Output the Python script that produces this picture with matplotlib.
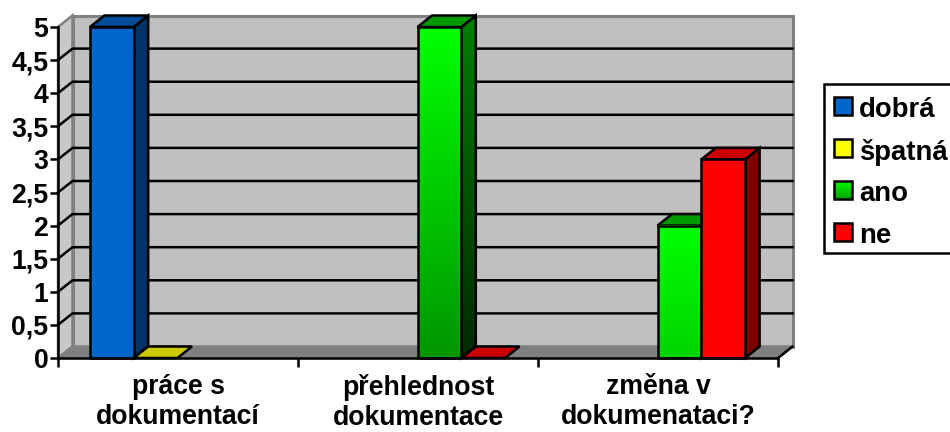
import numpy as np
import matplotlib
matplotlib.use('Agg')
import matplotlib.pyplot as plt
from matplotlib.patches import Polygon, Rectangle
from matplotlib.transforms import Affine2D

categories = ['práce s\ndokumentací', 'přehlednost\ndokumentace', 'změna v\ndokumenataci?']
series_names = ['dobrá', 'špatná', 'ano', 'ne']
dobra = [5, np.nan, np.nan]
spatna = [0, np.nan, np.nan]
ano = [np.nan, 5, 2]
ne = [np.nan, 0, 3]
y_ticks = [0, 0.5, 1, 1.5, 2, 2.5, 3, 3.5, 4, 4.5, 5]

W, H = 950, 432
plt.rcParams['font.family'] = ['Liberation Sans', 'DejaVu Sans']
plt.rcParams['font.weight'] = 'bold'

fig = plt.figure(figsize=(W / 100, H / 100), dpi=100, facecolor='white')
ax = fig.add_axes([58 / W, 1 - 358 / H, 720 / W, 331 / H])
ax.set_xlim(0, 3)
ax.set_ylim(0, 5)
ax.set_facecolor('none')

# depth of the fake 3d box, in data units
dx = 14.5 / 240
dy = 11.5 / (331 / 5)
bar_w = 43.8 / 240
LW = 1.8
FS = 19.2

# pixel coordinates for the legend
px = Affine2D().scale(1, -1).translate(0, H)


def poly(points, color, edge='black', lw=LW, z=2):
    p = Polygon(points, closed=True, facecolor=color, edgecolor=edge, linewidth=lw,
                zorder=z, clip_on=False, joinstyle='miter')
    ax.add_patch(p)
    return p


def gradient(x0, x1, y0, y1, top, bottom, z, transform=None, clip=None):
    # vertical colour ramp, first row is the top
    t = np.linspace(0, 1, 64)[:, None, None]
    img = (1 - t) * np.array(top)[None, None, :] + t * np.array(bottom)[None, None, :]
    im = ax.imshow(img, extent=(x0, x1, y0, y1), origin='upper', aspect='auto',
                   zorder=z, interpolation='bilinear',
                   transform=transform if transform is not None else ax.transData)
    # images get cut at the axes box otherwise, and the side faces stick out above it
    im.set_clip_box(fig.bbox)
    if clip is not None:
        im.set_clip_path(clip)
    return im


# walls and floor
poly([(0, 0), (dx, dy), (dx, 5 + dy), (0, 5)], '#c8c8c8', edge='#808080', z=1)
poly([(dx, dy), (3 + dx, dy), (3 + dx, 5 + dy), (dx, 5 + dy)], '#c0c0c0', edge='#808080', lw=2.2, z=1)
poly([(0, 0), (3, 0), (3 + dx, dy), (dx, dy)], '#808080', edge='#808080', z=1.1)
ax.plot([3, 3 + dx], [0, dy], color='black', lw=LW, zorder=1.2, clip_on=False)

# gridlines on both walls
for t in y_ticks[1:-1]:
    ax.plot([0, dx, 3 + dx], [t, t + dy, t + dy], color='black', lw=LW, zorder=1.5, clip_on=False)

styles = [
    {'front': ('#0066cc', '#0066cc'), 'side': ('#003366', '#003366'), 'cap': '#004c99', 'leg': ('#0066cc', '#0066cc')},
    {'front': ('#ffff00', '#ffff00'), 'side': ('#808000', '#808000'), 'cap': '#cccc00', 'leg': ('#ffff00', '#ffff00')},
    {'front': ('#00ff00', '#009600'), 'side': ('#007f00', '#002a00'), 'cap': '#009900', 'leg': ('#00ff00', '#00a000')},
    {'front': ('#ff0000', '#ff0000'), 'side': ('#800000', '#800000'), 'cap': '#cc0000', 'leg': ('#ff0000', '#ff0000')},
]


def rgb(c):
    return matplotlib.colors.to_rgb(c)


def mix(a, b, f):
    return tuple((1 - f) * x + f * y for x, y in zip(rgb(a), rgb(b)))


all_series = [dobra, spatna, ano, ne]
z = 3.0
for i in range(len(categories)):
    for j, vals in enumerate(all_series):
        v = vals[i]
        if np.isnan(v):
            continue
        st = styles[j]
        x0 = i + 0.5 + (j - 2) * bar_w - 0.5 / 240
        x1 = x0 + bar_w
        frac = v / 5
        # side face, only for bars with some height
        if v > 0:
            side = poly([(x1, 0), (x1 + dx, dy), (x1 + dx, v + dy), (x1, v)], 'none', lw=0, z=z)
            gradient(x1, x1 + dx, 0, v + dy, rgb(st['side'][0]), mix(st['side'][0], st['side'][1], frac), z + 0.01, clip=side)
            poly([(x1, 0), (x1 + dx, dy), (x1 + dx, v + dy), (x1, v)], 'none', z=z + 0.02)
        # top face
        poly([(x0, v), (x1, v), (x1 + dx, v + dy), (x0 + dx, v + dy)], st['cap'], z=z + 0.03)
        # front face
        if v > 0:
            gradient(x0, x1, 0, v, rgb(st['front'][0]), mix(st['front'][0], st['front'][1], frac), z + 0.04)
            ax.add_patch(Rectangle((x0, 0), bar_w, v, facecolor='none', edgecolor='black',
                                   linewidth=LW, zorder=z + 0.05, clip_on=False))
        z += 0.1

ax.set_xlim(0, 3)
ax.set_ylim(0, 5)

# axes lines and ticks
for s in ['top', 'right']:
    ax.spines[s].set_visible(False)
for s in ['left', 'bottom']:
    ax.spines[s].set_linewidth(LW)
    ax.spines[s].set_zorder(20)
ax.set_yticks(y_ticks)
ax.set_yticklabels([str(t).replace('.', ',').replace(',0', '') for t in y_ticks])
ax.set_xticks([0, 1, 2, 3])
ax.set_xticklabels([])
ax.set_xticks([0.5, 1.5, 2.5], minor=True)
ax.set_xticklabels(categories, minor=True, fontsize=FS, fontweight='bold', linespacing=1.22)
ax.tick_params(axis='x', which='major', length=6.5, width=LW)
ax.tick_params(axis='x', which='minor', length=0, pad=11.5)
ax.tick_params(axis='y', length=5.5, width=LW, labelsize=FS, pad=1.5)

# legend
ax.add_patch(Rectangle((824, 84), 140, 169, transform=px, facecolor='white', edgecolor='black',
                       linewidth=LW, zorder=30, clip_on=False))
leg_y = [106, 148, 190, 232]
for name, yy, st in zip(series_names, leg_y, styles):
    gradient(834, 852, yy + 9, yy - 9, rgb(st['leg'][0]), rgb(st['leg'][1]), 31, transform=px)
    ax.add_patch(Rectangle((834, yy - 9), 18, 18, transform=px, facecolor='none', edgecolor='black',
                           linewidth=LW, zorder=32, clip_on=False))
    ax.text(859, yy + 1, name, transform=px, fontsize=FS + 0.6, fontweight='bold', va='center_baseline',
            ha='left', zorder=33, clip_on=False)

ax.set_xlim(0, 3)
ax.set_ylim(0, 5)
fig.savefig('out.png', dpi=100, facecolor='white')
